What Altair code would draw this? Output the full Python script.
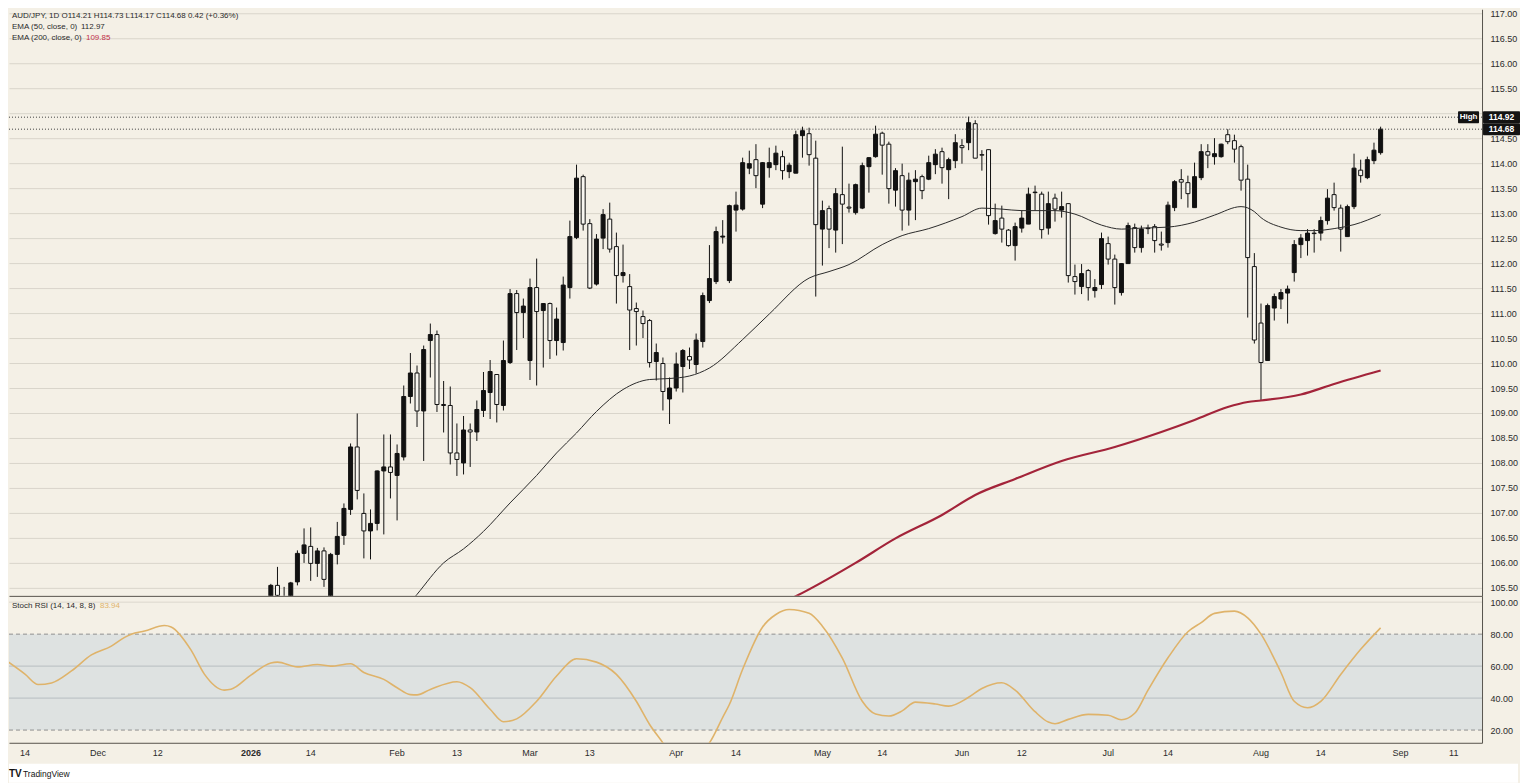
import altair as alt
import pandas as pd

FONT = "Liberation Sans Narrow, Liberation Sans, sans-serif"
BG = "#f4f0e6"
TXT = "#2b2b2b"
AXLINE = "#56534c"

W = 1474
H_TOP = 587
H_BOT = 147
X_DOMAIN = [-2.4, 219.26]
P_DOMAIN = [105.34, 117.08]
S_DOMAIN = [12.06, 103.94]

# bar index = trading days counted from Fri 14 Nov 2025 (index 0)
FIRST_BAR = 37

opens = [105.30, 105.55, 105.30, 105.30, 105.62, 106.19, 106.33, 105.99, 106.24, 105.30,
         106.17, 106.55, 107.07, 108.32, 106.99, 106.64, 106.79, 107.84, 107.92, 107.75,
         108.12, 109.33, 109.80, 109.04, 110.45, 110.57, 109.17, 109.15, 108.20, 108.00,
         108.66, 108.62, 109.05, 109.41, 109.77, 109.15, 110.01, 111.39, 111.01, 110.05,
         111.51, 111.05, 111.19, 110.45, 110.41, 111.51, 112.51, 113.73, 112.79, 111.58,
         112.50, 112.88, 112.33, 111.75, 111.53, 111.09, 110.93, 110.85, 110.03, 109.99,
         109.28, 109.50, 109.93, 110.13, 109.97, 110.43, 111.25, 111.63, 112.52, 111.65,
         113.06, 113.08, 113.90, 114.07, 113.18, 113.91, 113.97, 114.13, 113.83, 113.80,
         114.55, 114.59, 114.10, 112.68, 113.09, 112.66, 113.37, 113.12, 113.01, 113.10,
         113.93, 114.13, 114.60, 114.38, 113.46, 113.75, 113.06, 113.63, 113.73, 113.68,
         113.97, 114.23, 113.87, 114.05, 114.35, 114.41, 114.79, 114.17, 114.27, 112.59,
         112.90, 112.66, 112.35, 112.70, 112.78, 113.41, 113.38, 112.70, 113.30, 113.06,
         113.19, 111.73, 111.53, 111.85, 111.45, 111.57, 112.39, 112.08, 111.41, 111.99,
         112.71, 112.31, 112.69, 112.73, 112.38, 112.41, 113.11, 113.67, 113.61, 113.11,
         113.71, 114.23, 114.13, 114.13, 114.57, 114.45, 114.33, 113.68, 111.93, 110.80,
         110.05, 111.10, 111.28, 111.40, 111.81, 112.37, 112.45, 112.60, 112.60, 112.85,
         113.37, 113.10, 112.53, 113.13, 113.86, 113.71, 114.05, 114.21]

highs = [105.58, 105.92, 105.52, 105.62, 106.25, 106.69, 106.71, 106.30, 106.31, 106.20,
         106.82, 107.19, 108.39, 108.99, 107.39, 107.07, 107.85, 108.57, 108.57, 108.37,
         109.55, 110.20, 109.95, 110.35, 110.79, 110.65, 109.64, 109.53, 108.79, 108.94,
         108.79, 109.25, 109.82, 110.06, 109.78, 110.45, 111.48, 111.46, 111.29, 111.69,
         112.09, 111.20, 111.21, 111.11, 111.73, 112.85, 113.97, 113.77, 112.88, 112.58,
         113.08, 113.21, 112.61, 112.37, 111.78, 111.21, 111.05, 110.88, 110.39, 110.11,
         109.71, 110.21, 110.28, 110.31, 110.59, 111.41, 112.36, 112.73, 112.86, 113.17,
         113.43, 114.11, 114.25, 114.38, 114.02, 114.31, 114.35, 114.25, 114.01, 114.65,
         114.73, 114.71, 114.45, 113.25, 113.15, 113.50, 114.33, 113.59, 113.59, 114.01,
         114.12, 114.75, 114.63, 114.43, 113.90, 113.99, 113.81, 113.86, 113.77, 114.15,
         114.28, 114.31, 114.11, 114.58, 114.48, 114.93, 114.86, 114.26, 114.27, 113.19,
         113.15, 112.68, 112.81, 113.06, 113.51, 113.55, 113.43, 113.43, 113.39, 113.43,
         113.20, 111.97, 111.98, 111.88, 111.68, 112.61, 112.53, 112.17, 112.00, 112.81,
         112.79, 112.75, 112.77, 112.78, 112.63, 113.23, 113.66, 113.88, 113.75, 114.01,
         114.38, 114.38, 114.50, 114.39, 114.68, 114.57, 114.37, 113.97, 112.20, 111.19,
         111.19, 111.39, 111.48, 111.55, 112.46, 112.58, 112.68, 112.68, 112.93, 113.48,
         113.61, 113.17, 113.17, 114.19, 114.07, 114.13, 114.41, 114.73]

lows = [105.20, 105.20, 105.10, 105.20, 105.55, 106.00, 105.64, 105.72, 105.52, 105.20,
        105.97, 106.36, 106.96, 107.27, 106.09, 106.07, 106.65, 106.57, 107.29, 106.85,
        108.05, 109.19, 108.72, 108.04, 109.71, 109.02, 108.61, 107.97, 107.74, 107.77,
        107.92, 108.44, 108.92, 108.88, 108.81, 109.05, 109.98, 110.26, 110.50, 109.66,
        109.55, 109.91, 110.08, 110.15, 110.25, 111.29, 112.48, 112.65, 111.48, 111.55,
        112.28, 112.21, 111.19, 111.61, 110.26, 110.35, 110.50, 109.91, 109.65, 109.05,
        108.78, 109.43, 109.41, 109.88, 109.79, 110.31, 111.20, 111.58, 112.39, 111.60,
        112.63, 113.05, 113.78, 113.50, 113.10, 113.71, 113.86, 113.67, 113.70, 113.80,
        114.11, 113.95, 111.33, 111.95, 112.30, 112.21, 112.38, 113.01, 112.97, 113.08,
        113.41, 114.11, 113.77, 113.19, 113.13, 112.65, 112.75, 112.86, 113.28, 113.66,
        113.78, 113.59, 113.28, 113.90, 113.99, 114.26, 114.10, 113.85, 112.77, 112.57,
        112.41, 112.33, 112.05, 112.61, 112.78, 113.05, 112.49, 112.57, 112.83, 112.91,
        111.61, 111.37, 111.38, 111.25, 111.31, 111.48, 111.97, 111.17, 111.35, 111.99,
        112.21, 112.21, 112.58, 112.21, 112.25, 112.31, 113.04, 113.28, 113.11, 113.11,
        113.66, 113.90, 113.97, 114.11, 114.38, 114.01, 113.45, 110.91, 110.39, 109.25,
        110.05, 110.85, 111.08, 110.79, 111.63, 112.10, 112.15, 112.21, 112.45, 112.77,
        113.05, 112.23, 112.53, 113.08, 113.61, 113.68, 113.98, 114.17]

closes = [105.55, 105.35, 105.25, 105.60, 106.19, 106.36, 105.99, 106.24, 105.67, 106.17,
          106.53, 107.09, 108.32, 107.45, 106.64, 106.79, 107.84, 107.92, 107.81, 108.19,
          109.33, 109.80, 109.04, 110.27, 110.57, 109.17, 109.15, 108.20, 108.07, 108.66,
          108.62, 109.07, 109.45, 109.83, 109.17, 110.05, 111.39, 111.01, 111.14, 111.51,
          111.03, 111.19, 110.45, 110.88, 111.56, 112.53, 113.70, 112.78, 111.50, 112.48,
          112.97, 112.28, 111.75, 111.81, 111.06, 111.03, 110.79, 110.01, 110.21, 109.43,
          109.50, 109.98, 110.25, 110.06, 110.46, 111.35, 111.69, 112.63, 112.54, 113.15,
          113.16, 114.01, 113.99, 113.75, 114.01, 114.01, 114.20, 113.85, 113.96, 114.57,
          114.65, 114.17, 112.77, 113.05, 112.68, 113.39, 113.18, 113.10, 113.57, 113.95,
          114.11, 114.58, 114.36, 113.49, 113.85, 113.06, 113.66, 113.68, 113.45, 114.01,
          114.18, 113.91, 114.07, 114.41, 114.31, 114.81, 114.10, 114.16, 112.95, 112.85,
          112.68, 112.35, 112.73, 112.90, 113.38, 113.42, 112.67, 113.19, 113.08, 113.13,
          111.75, 111.63, 111.79, 111.51, 111.51, 112.49, 112.08, 111.51, 111.99, 112.75,
          112.31, 112.68, 112.70, 112.45, 112.36, 113.16, 113.63, 113.62, 113.39, 113.73,
          114.23, 114.16, 114.19, 114.38, 114.43, 114.28, 113.66, 112.11, 110.46, 110.01,
          111.15, 111.33, 111.41, 111.48, 112.37, 112.50, 112.60, 112.59, 112.85, 113.30,
          113.11, 112.68, 113.13, 113.90, 113.75, 114.07, 114.26, 114.68]

ema50_bar = [57, 59, 63, 66, 69, 73, 77, 80, 83, 86, 90, 94, 97, 100, 103, 108, 112, 118,
             121, 124, 129, 132, 136, 141, 144, 147, 150, 155, 158, 162, 165, 168, 172,
             176, 179, 183, 185, 186, 189, 192, 194, 197, 200, 204]
ema50_val = [105.05, 105.37, 106.00, 106.28, 106.63, 107.20, 107.75, 108.20, 108.60,
             109.03, 109.47, 109.67, 109.69, 109.74, 109.90, 110.47, 110.98, 111.70,
             111.83, 111.97, 112.37, 112.55, 112.69, 112.93, 113.10, 113.08, 113.05,
             113.05, 112.98, 112.76, 112.68, 112.70, 112.72, 112.82, 112.96, 113.13,
             113.03, 112.91, 112.72, 112.65, 112.65, 112.69, 112.77, 112.97]

ema200_bar = [114, 117, 125, 131, 138, 143, 149, 156, 164, 171, 176, 181, 184, 186, 192, 197, 204]
ema200_val = [105.20, 105.40, 106.00, 106.49, 106.96, 107.36, 107.68, 108.04, 108.32,
              108.62, 108.86, 109.12, 109.22, 109.25, 109.37, 109.58, 109.85]

stoch_bar = [-3, 0, 2, 4, 7, 10, 13, 15, 16, 18, 21, 22, 25, 27, 30, 31, 34, 37, 38, 41,
             44, 46, 49, 51, 54, 56, 58, 59, 61, 65, 67, 70, 72, 74, 77, 80, 83, 86, 89,
             92, 94, 96, 97, 99, 101, 103, 105, 106, 108, 111, 113, 115, 118, 120, 123,
             126, 128, 130, 132, 134, 137, 139, 142, 144, 147, 149, 152, 154, 155, 157,
             160, 163, 165, 167, 169, 172, 175, 177, 179, 182, 184, 186, 189, 191, 193,
             195, 198, 201, 204]
stoch_val = [64, 55, 48.5, 49.5, 57, 67, 72.5, 78, 80, 82, 85.4, 84.5, 70, 55, 45, 45.5,
             54.4, 62, 62.5, 59.5, 61, 60, 61.5, 56, 51.7, 46.5, 42.2, 42, 45.4, 50.2,
             46.5, 33, 25.2, 27, 38, 53.8, 64.6, 62.5, 54.8, 38, 23.5, 12, 6, 1, 4, 12,
             28, 36, 58, 84.5, 92.3, 95.4, 93, 85, 65, 38, 30, 28.8, 32, 37.5, 36.3, 35,
             40.5, 46, 49.6, 45, 31.5, 25, 24, 26.7, 29.8, 29.3, 26.5, 30.5, 45, 65.2,
             81.5, 87.2, 93, 94.4, 90.2, 80, 56, 38, 34, 38, 54.8, 70.5, 83.94]

xlabel_bar = [0, 11, 20, 34, 43, 56, 65, 76, 85, 98, 107, 120, 129, 141, 150, 163, 172,
              186, 195, 207, 215]
xlabel_text = ["14", "Dec", "12", "2026", "14", "Feb", "13", "Mar", "13", "Apr", "14",
               "May", "14", "Jun", "12", "Jul", "14", "Aug", "14", "Sep", "11"]

price_ticks = [105.5, 106.0, 106.5, 107.0, 107.5, 108.0, 108.5, 109.0, 109.5, 110.0,
               110.5, 111.0, 111.5, 112.0, 112.5, 113.0, 113.5, 114.0, 114.5, 115.0,
               115.5, 116.0, 116.5, 117.0]
hidden_tick = 115.0   # its label sits under the 114.92 price tag in the reference
stoch_ticks = [20, 40, 60, 80, 100]
marker_prices = [114.92, 114.68]
marker_labels = ["114.92", "114.68"]

# ---------------------------------------------------------------- data frames
candles = pd.DataFrame({
    "bar": list(range(FIRST_BAR, FIRST_BAR + len(closes))),
    "open": opens, "high": highs, "low": lows, "close": closes,
})
candles["left"] = candles["bar"] - 0.3
candles["right"] = candles["bar"] + 0.3
candles["dir"] = ["up" if c >= o else "down" for o, c in zip(opens, closes)]

ema50_df = pd.DataFrame({"bar": ema50_bar, "v": ema50_val})
ema200_df = pd.DataFrame({"bar": ema200_bar, "v": ema200_val})
stoch_df = pd.DataFrame({"bar": stoch_bar, "v": stoch_val})
xl_df = pd.DataFrame({"bar": xlabel_bar, "t": xlabel_text})
mk_df = pd.DataFrame({"p": marker_prices, "t": marker_labels})
mk_df["top"] = mk_df["p"] + 0.12
mk_df["bot"] = mk_df["p"] - 0.12
high_df = mk_df.iloc[[0]].copy()
high_df["t"] = ["High"]

xs = alt.Scale(domain=X_DOMAIN, nice=False, zero=False)
ps = alt.Scale(domain=P_DOMAIN, nice=False, zero=False)
ss = alt.Scale(domain=S_DOMAIN, nice=False, zero=False)

x_axis_sep = alt.Axis(labels=False, ticks=False, grid=False, domain=True,
                      domainColor=AXLINE, domainWidth=1, title=None)
p_axis = alt.Axis(orient="right", values=price_ticks, format=".2f", grid=True,
                  gridColor="#d9d5cb", gridWidth=1, ticks=False, labelPadding=8,
                  labelFontSize=9, labelColor=TXT, labelFont=FONT, domain=True,
                  domainColor=AXLINE, title=None, labelOverlap=False,
                  labelExpr=f"datum.value == {hidden_tick} ? '' : format(datum.value, '.2f')")
s_axis = alt.Axis(orient="right", values=stoch_ticks, format=".2f", grid=False,
                  ticks=False, labelPadding=8, labelFontSize=9, labelColor=TXT,
                  labelFont=FONT, domain=True, domainColor=AXLINE, title=None,
                  labelOverlap=False)


def X(field):
    return alt.X(field, scale=xs, axis=x_axis_sep)


def PY(field):
    return alt.Y(field, scale=ps, axis=p_axis)


def SY(field):
    return alt.Y(field, scale=ss, axis=s_axis)


def txt(text, x, y, color=TXT, size=8, weight="normal", align="left"):
    return alt.Chart(pd.DataFrame({"t": [text]})).mark_text(
        align=align, baseline="middle", font=FONT, fontSize=size, color=color,
        fontWeight=weight).encode(x=alt.value(x), y=alt.value(y), text="t:N")


# ---------------------------------------------------------------- price panel
wicks = alt.Chart(candles).mark_rule(color="#111111", strokeWidth=1, clip=True).encode(
    x=X("bar:Q"), y=PY("low:Q"), y2="high:Q")
bodies = alt.Chart(candles).mark_rect(stroke="#111111", strokeWidth=1, clip=True).encode(
    x=X("left:Q"), x2="right:Q", y=PY("open:Q"), y2="close:Q",
    fill=alt.Fill("dir:N", scale=alt.Scale(domain=["up", "down"],
                                           range=["#111111", "#f8f6f0"]), legend=None))
ema50 = alt.Chart(ema50_df).mark_line(color="#2a2a2a", strokeWidth=1,
                                      interpolate="monotone", clip=True).encode(
    x=X("bar:Q"), y=PY("v:Q"))
ema200 = alt.Chart(ema200_df).mark_line(color="#a3243a", strokeWidth=2.2,
                                        interpolate="monotone", clip=True).encode(
    x=X("bar:Q"), y=PY("v:Q"))
dotted = alt.Chart(mk_df).mark_rule(color="#3c3c3c", strokeWidth=1, strokeDash=[1, 2]).encode(
    y=PY("p:Q"))
boxes = alt.Chart(mk_df).mark_rect(color="#131313", cornerRadius=1).encode(
    x=alt.value(W + 1), x2=alt.value(W + 38), y=PY("top:Q"), y2="bot:Q")
box_txt = alt.Chart(mk_df).mark_text(color="white", font=FONT, fontSize=8.5,
                                     fontWeight="bold", align="center",
                                     baseline="middle").encode(
    x=alt.value(W + 19.5), y=PY("p:Q"), text="t:N")
hbox = alt.Chart(high_df).mark_rect(color="#131313", cornerRadius=1).encode(
    x=alt.value(W - 24), x2=alt.value(W - 3), y=PY("top:Q"), y2="bot:Q")
hbox_txt = alt.Chart(high_df).mark_text(color="white", font=FONT, fontSize=8,
                                        fontWeight="bold", align="center",
                                        baseline="middle").encode(
    x=alt.value(W - 13.5), y=PY("p:Q"), text="t:N")

top = alt.layer(
    wicks, bodies, ema50, ema200, dotted, boxes, box_txt, hbox, hbox_txt,
    txt("AUD/JPY, 1D  O114.21  H114.73  L114.17  C114.68  0.42 (+0.36%)", 3, 7),
    txt("EMA (50, close, 0)", 3, 18), txt("112.97", 72, 18),
    txt("EMA (200, close, 0)", 3, 29), txt("109.85", 77, 29, color="#c2334a"),
).properties(width=W, height=H_TOP)

# ---------------------------------------------------------------- stoch panel
band = alt.Chart(pd.DataFrame({"lo": [20], "hi": [80]})).mark_rect(color="#dee2e1").encode(
    x=alt.value(0), x2=alt.value(W), y=SY("lo:Q"), y2="hi:Q")
solid = alt.Chart(pd.DataFrame({"v": [60, 40]})).mark_rule(color="#b7bec1", strokeWidth=1).encode(
    y=SY("v:Q"))
faint = alt.Chart(pd.DataFrame({"v": [100]})).mark_rule(color="#dcd8ce", strokeWidth=1).encode(
    y=SY("v:Q"))
dashed = alt.Chart(pd.DataFrame({"v": [80, 20]})).mark_rule(
    color="#8f8f8f", strokeWidth=1, strokeDash=[4, 3]).encode(y=SY("v:Q"))
stoch = alt.Chart(stoch_df).mark_line(color="#dfb36a", strokeWidth=1.6,
                                      interpolate="monotone", clip=True).encode(
    x=X("bar:Q"), y=SY("v:Q"))
xl_reg = alt.Chart(xl_df).transform_filter(alt.datum.t != "2026").mark_text(
    font=FONT, fontSize=9, color=TXT, align="center", baseline="middle").encode(
    x=X("bar:Q"), y=alt.value(H_BOT + 10), text="t:N")
xl_bold = alt.Chart(xl_df).transform_filter(alt.datum.t == "2026").mark_text(
    font=FONT, fontSize=9, color=TXT, fontWeight="bold", align="center",
    baseline="middle").encode(x=X("bar:Q"), y=alt.value(H_BOT + 10), text="t:N")
white_strip = alt.Chart(pd.DataFrame({"a": [0]})).mark_rect(color="white").encode(
    x=alt.value(0), x2=alt.value(W + 36), y=alt.value(H_BOT + 21), y2=alt.value(H_BOT + 40))

bottom = alt.layer(
    band, faint, solid, dashed, stoch, xl_reg, xl_bold, white_strip,
    txt("Stoch RSI (14, 14, 8, 8)", 3, 10), txt("83.94", 91, 10, color="#e0b46c"),
    txt("TV", 0, H_BOT + 31, color="#131313", size=10, weight="bold"),
    txt("TradingView", 14, H_BOT + 31, color="#131313", size=8.5),
).properties(width=W, height=H_BOT)

chart = alt.vconcat(top, bottom, spacing=0).properties(
    padding={"left": 0, "top": 0, "right": 0, "bottom": 0}
).configure(background=BG, font=FONT).configure_view(stroke=None)

chart.save("out.html", embed_options={"renderer": "svg", "actions": False})
